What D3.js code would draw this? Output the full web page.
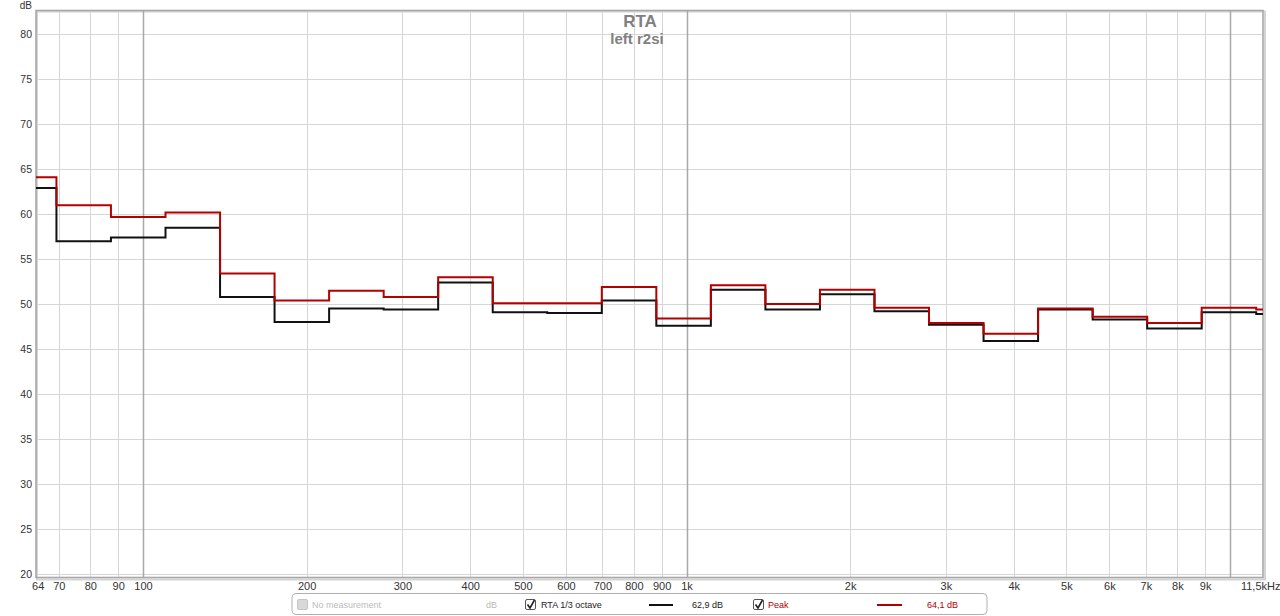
<!DOCTYPE html>
<html>
<head>
<meta charset="utf-8">
<script src="https://cdn.jsdelivr.net/npm/d3@7"></script>
<style>
  html, body { margin: 0; padding: 0; background: #fff; }
  svg { display: block; font-family: "Liberation Sans", Arial, sans-serif; }
</style>
</head>
<body>
<svg id="chart" width="1280" height="616"></svg>
<script>
// ---- data ----
const bandStarts = [55.0, 69.3, 87.3, 110, 138.6, 174.6, 220, 277.2, 349.2, 440, 554.4, 698.5, 880,
  1108.7, 1396.9, 1760, 2217.5, 2793.8, 3520, 4434.9, 5587.7, 7040, 8869.8, 11175];
const lastBandEnd = 14080;
const rtaValues  = [62.9, 57.0, 57.4, 58.5, 50.8, 48.0, 49.5, 49.4, 52.4, 49.1, 49.0, 50.4, 47.6,
  51.6, 49.4, 51.1, 49.2, 47.7, 45.9, 49.4, 48.3, 47.3, 49.1, 48.9];
const peakValues = [64.1, 61.0, 59.7, 60.2, 53.4, 50.4, 51.5, 50.8, 53.0, 50.1, 50.1, 51.9, 48.4,
  52.1, 50.0, 51.6, 49.6, 47.9, 46.7, 49.5, 48.6, 47.9, 49.6, 49.4];
const yTicks = [20, 25, 30, 35, 40, 45, 50, 55, 60, 65, 70, 75, 80];
const xTickValues = [64, 70, 80, 90, 100, 200, 300, 400, 500, 600, 700, 800, 900, 1000,
  2000, 3000, 4000, 5000, 6000, 7000, 8000, 9000, 11500];
const xTickLabels = ["64", "70", "80", "90", "100", "200", "300", "400", "500", "600", "700", "800", "900", "1k",
  "2k", "3k", "4k", "5k", "6k", "7k", "8k", "9k", "11,5kHz"];
const minorGrid = [70, 80, 90, 200, 300, 400, 500, 600, 700, 800, 900,
  2000, 3000, 4000, 5000, 6000, 7000, 8000, 9000];
const majorGrid = [100, 1000, 10000];
const titleLines = ["RTA", "left r2si"];
const legendItems = [
  {label: "No measurement", value: "dB", color: "#bbbbbb", enabled: false},
  {label: "RTA 1/3 octave", value: "62,9 dB", color: "#111111", enabled: true},
  {label: "Peak", value: "64,1 dB", color: "#b00000", enabled: true}
];

// ---- layout ----
const L = 36, R = 1263, T = 10.5, B = 577.5;
const svg = d3.select("#chart");
const x = d3.scaleLog().domain([63.55, 11500]).range([L, R]);
const y = d3.scaleLinear().domain([19.6, 82.65]).range([B, T]);

const defs = svg.append("defs");
defs.append("clipPath").attr("id", "plotclip")
  .append("rect").attr("x", L).attr("y", T).attr("width", R - L).attr("height", B - T);

// frame shadow
svg.append("rect").attr("x", L + 1).attr("y", T + 1).attr("width", R - L + 1).attr("height", B - T + 1)
  .attr("fill", "none").attr("stroke", "#d4d4d4").attr("stroke-width", 2);

// horizontal grid
svg.append("g").selectAll("line").data(yTicks).join("line")
  .attr("x1", L).attr("x2", R)
  .attr("y1", d => Math.round(y(d)) + 0.5).attr("y2", d => Math.round(y(d)) + 0.5)
  .attr("stroke", "#d6d6d6").attr("stroke-width", 1);

// vertical grid
svg.append("g").selectAll("line").data(minorGrid).join("line")
  .attr("x1", d => Math.round(x(d)) + 0.5).attr("x2", d => Math.round(x(d)) + 0.5)
  .attr("y1", T).attr("y2", B)
  .attr("stroke", "#d6d6d6").attr("stroke-width", 1);
svg.append("g").selectAll("line").data(majorGrid).join("line")
  .attr("x1", d => Math.round(x(d)) + 0.5).attr("x2", d => Math.round(x(d)) + 0.5)
  .attr("y1", T).attr("y2", B)
  .attr("stroke", "#a9a9a9").attr("stroke-width", 1.5);

// frame
svg.append("rect").attr("x", L).attr("y", T).attr("width", R - L).attr("height", B - T)
  .attr("fill", "none").attr("stroke", "#a8a8a8").attr("stroke-width", 1.6);

// y axis labels
const yAxis = d3.axisLeft(y).tickValues(yTicks).tickSize(0).tickPadding(4);
const gy = svg.append("g").attr("transform", `translate(${L},0)`).call(yAxis);
gy.select(".domain").remove();
gy.selectAll("text").attr("font-size", 10.5).attr("fill", "#333").attr("font-family", "Liberation Sans, Arial, sans-serif");
svg.append("text").attr("x", 32).attr("y", 8.5).attr("text-anchor", "end")
  .attr("font-size", 10).attr("fill", "#333").text("dB");

// x axis labels
const xAxis = d3.axisBottom(x).tickValues(xTickValues)
  .tickFormat((d, i) => xTickLabels[i]).tickSize(0).tickPadding(5);
const gx = svg.append("g").attr("transform", `translate(0,${B})`).call(xAxis);
gx.select(".domain").remove();
gx.selectAll("text").attr("font-size", 11).attr("fill", "#333").attr("font-family", "Liberation Sans, Arial, sans-serif");
gx.selectAll("text").filter(d => d === 11500).attr("text-anchor", "end").attr("dx", 17);

// title
svg.append("text").attr("x", 640).attr("y", 26.5).attr("text-anchor", "middle")
  .attr("font-size", 17).attr("font-weight", "bold").attr("fill", "#808080").text(titleLines[0]);
svg.append("text").attr("x", 637).attr("y", 43.5).attr("text-anchor", "middle")
  .attr("font-size", 15).attr("font-weight", "bold").attr("fill", "#808080").text(titleLines[1]);

// step lines
function stepPoints(vals) {
  const pts = bandStarts.map((f, i) => [f, vals[i]]);
  pts.push([lastBandEnd, vals[vals.length - 1]]);
  return pts;
}
const line = d3.line().x(d => x(d[0])).y(d => y(d[1])).curve(d3.curveStepAfter);
const plot = svg.append("g").attr("clip-path", "url(#plotclip)");
plot.append("path").datum(stepPoints(rtaValues)).attr("d", line)
  .attr("fill", "none").attr("stroke", "#111").attr("stroke-width", 2);
plot.append("path").datum(stepPoints(peakValues)).attr("d", line)
  .attr("fill", "none").attr("stroke", "#b30000").attr("stroke-width", 2);

// legend
const lg = svg.append("g");
lg.append("rect").attr("x", 292).attr("y", 593.5).attr("width", 695).attr("height", 21).attr("rx", 4)
  .attr("fill", "#fff").attr("stroke", "#b0b0b0").attr("stroke-width", 1);
const legendPos = [
  {box: 297, label: 312, val: 486, valAnchor: "start", line: null},
  {box: 525, label: 541, val: 692, valAnchor: "start", line: [649, 673]},
  {box: 753, label: 768, val: 927, valAnchor: "start", line: [877, 902]}
];
legendItems.forEach((it, i) => {
  const p = legendPos[i];
  lg.append("rect").attr("x", p.box + 0.5).attr("y", 599.5).attr("width", 10).attr("height", 10).attr("rx", 1.5)
    .attr("fill", it.enabled ? "#fff" : "#d8d8d8").attr("stroke", it.enabled ? "#555" : "#c4c4c4");
  if (it.enabled) {
    lg.append("path").attr("d", `M${p.box + 2.5},${604.5} L${p.box + 5},${608} L${p.box + 9.5},${600}`)
      .attr("fill", "none").attr("stroke", "#222").attr("stroke-width", 1.6);
  }
  const textColor = it.enabled ? (i === 2 ? "#b00000" : "#222") : "#bbbbbb";
  lg.append("text").attr("x", p.label).attr("y", 608).attr("font-size", 9).attr("fill", textColor).text(it.label);
  lg.append("text").attr("x", p.val).attr("y", 608).attr("font-size", 9).attr("text-anchor", p.valAnchor)
    .attr("fill", it.enabled ? textColor : "#bbbbbb").text(it.value);
  if (p.line) {
    lg.append("line").attr("x1", p.line[0]).attr("x2", p.line[1]).attr("y1", 605).attr("y2", 605)
      .attr("stroke", it.color).attr("stroke-width", 2);
  }
});
</script>
</body>
</html>
